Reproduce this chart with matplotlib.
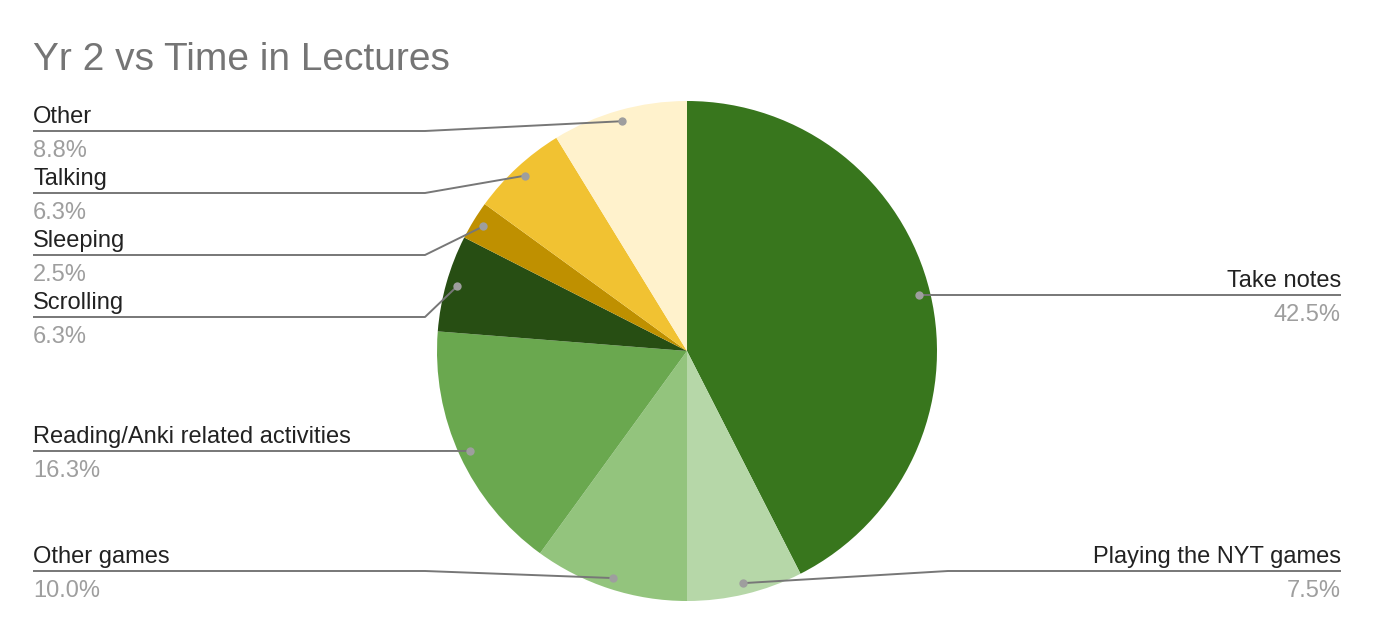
import numpy as np
import matplotlib
matplotlib.use("Agg")
import matplotlib.pyplot as plt

plt.rcParams['font.family'] = ['Liberation Sans', 'DejaVu Sans']

# data (responses, clockwise from 12 o'clock)
labels = ["Take notes", "Playing the NYT games", "Other games", "Reading/Anki related activities",
          "Scrolling", "Sleeping", "Talking", "Other"]
counts = [34, 6, 8, 13, 5, 2, 5, 7]
colors = ["#38761d", "#b6d7a8", "#93c47d", "#6aa84f", "#274e13", "#bf9000", "#f1c232", "#fff2cc"]

# label layout: side and y of the leader line (pixels from top)
sides = ["R", "R", "L", "L", "L", "L", "L", "L"]
line_y = [295, 571, 571, 451, 317, 255, 193, 131]

W, H = 1374, 634
cx, cy, R = 687, 351, 250

fig = plt.figure(figsize=(W / 100, H / 100), dpi=100)
ax = fig.add_axes([0, 0, 1, 1])
ax.set_xlim(0, W)
ax.set_ylim(0, H)
ax.set_aspect('equal')
ax.axis('off')

ax.pie(counts, colors=colors, startangle=90, counterclock=False,
       center=(cx, H - cy), radius=R, wedgeprops=dict(linewidth=0))

ax.set_xlim(0, W)
ax.set_ylim(0, H)

fig.text(33 / W, 1 - 70 / H, "Yr 2 vs Time in Lectures", fontsize=28, color="#757575",
         ha='left', va='baseline')

total = sum(counts)
cum = 0
for lab, c, side, ly in zip(labels, counts, sides, line_y):
    mid = (cum + c / 2) / total
    cum += c
    ang = np.deg2rad(90 - 360 * mid)
    dx = cx + 0.955 * R * np.cos(ang)
    dy = H - (cy - 0.955 * R * np.sin(ang))
    yl = H - ly
    pct = np.floor(1000 * c / total + 0.5) / 10  # round half up like the source
    if side == "L":
        xs = [33, 425, dx]
        tx, ha = 33, 'left'
    else:
        xs = [1341, 948, dx] if abs(yl - dy) > 3 else [1341, dx, dx]
        tx, ha = 1341, 'right'
    ax.plot(xs, [yl, yl, dy], color="#777777", lw=1.4, solid_capstyle='butt')
    ax.plot(dx, dy, 'o', color="#9e9e9e", ms=6, mec='none')
    ax.text(tx, yl + 8, lab, fontsize=17, color="#222222", ha=ha, va='baseline')
    ax.text(tx, yl - 26, f"{pct:.1f}%", fontsize=17, color="#9e9e9e", ha=ha, va='baseline')

fig.savefig("out.png", dpi=100)
